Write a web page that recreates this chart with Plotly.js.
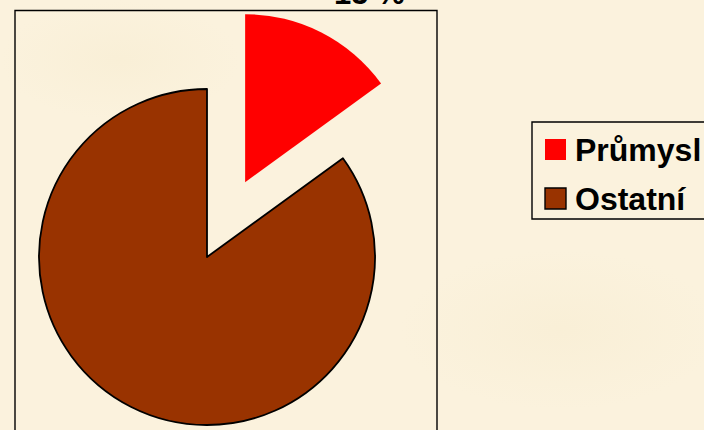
<!DOCTYPE html>
<html><head><meta charset="utf-8">
<script src="https://cdn.plot.ly/plotly-3.0.1.min.js"></script>
<style>
html,body{margin:0;padding:0;width:704px;height:430px;overflow:hidden;background:#FBF2DD;}
#wrap{position:relative;width:704px;height:430px;overflow:hidden;
  background:
    radial-gradient(ellipse 120px 60px at 120px 60px, rgba(244,232,200,0.3), rgba(0,0,0,0)),
    radial-gradient(ellipse 160px 80px at 560px 330px, rgba(244,232,200,0.3), rgba(0,0,0,0)),
    #FBF2DD;}
#chart{position:absolute;left:-100px;top:-50px;width:900px;height:600px;}
</style></head><body>
<div id="wrap"><div id="chart"></div></div>
<script>
// ---- data ----
const labels = ['Průmysl', 'Ostatní'];
const values = [15, 85];
const colors = ['#FF0000', '#993300'];
const pulls = [0.5, 0];
const outlineWidths = [0, 1.8];

// ---- geometry (page pixels) ----
const W = 900, H = 600, offX = 100, offY = 50;
const px = x => (x + offX) / W;
const py = y => 1 - (y + offY) / H;

const cx = 207, cy = 257, r = 168;
const maxPull = Math.max(...pulls);
const half = r * (1 + maxPull);

const total = values.reduce((a, b) => a + b, 0);
const pctText = Math.round(values[0] / total * 100) + ' %';

const trace = {
  type: 'pie',
  labels: labels,
  values: values,
  sort: false,
  direction: 'clockwise',
  rotation: 0,
  pull: pulls,
  textinfo: 'none',
  hoverinfo: 'none',
  showlegend: false,
  marker: { colors: colors, line: { color: '#000000', width: outlineWidths } },
  domain: { x: [px(cx - half), px(cx + half)], y: [py(cy + half), py(cy - half)] }
};

const fontFam = 'Arial, "Liberation Sans", sans-serif';
const shapes = [
  // plot-area frame
  { type: 'rect', xref: 'paper', yref: 'paper', x0: px(15), x1: px(437), y0: py(460), y1: py(10.5),
    line: { color: '#000', width: 1.4 }, fillcolor: 'rgba(0,0,0,0)' },
  // legend frame
  { type: 'rect', xref: 'paper', yref: 'paper', x0: px(532), x1: px(730), y0: py(219), y1: py(122),
    line: { color: '#000', width: 1.4 }, fillcolor: 'rgba(0,0,0,0)' }
];
const annotations = [
  { xref: 'paper', yref: 'paper', x: px(369), y: py(-6.5), xanchor: 'center', yanchor: 'middle',
    text: '<b>' + pctText + '</b>', showarrow: false, font: { family: fontFam, size: 31, color: '#000' } }
];
const rowY = [149.5, 198.5];
labels.forEach((lab, i) => {
  shapes.push({ type: 'rect', xref: 'paper', yref: 'paper',
    x0: px(545), x1: px(566), y0: py(rowY[i] + 10.5), y1: py(rowY[i] - 10.5),
    fillcolor: colors[i], line: { color: '#000', width: outlineWidths[i] > 0 ? 1.4 : 0 } });
  annotations.push({ xref: 'paper', yref: 'paper', x: px(573), y: py(rowY[i]), xanchor: 'left', yanchor: 'middle',
    text: '<b>' + lab + '</b>', showarrow: false, font: { family: fontFam, size: 32, color: '#000' } });
});

const layout = {
  width: W, height: H,
  margin: { l: 0, r: 0, t: 0, b: 0, pad: 0 },
  paper_bgcolor: 'rgba(0,0,0,0)',
  plot_bgcolor: 'rgba(0,0,0,0)',
  showlegend: false,
  shapes: shapes,
  annotations: annotations
};

Plotly.newPlot('chart', [trace], layout, { staticPlot: true, displayModeBar: false });
</script>
</body></html>
